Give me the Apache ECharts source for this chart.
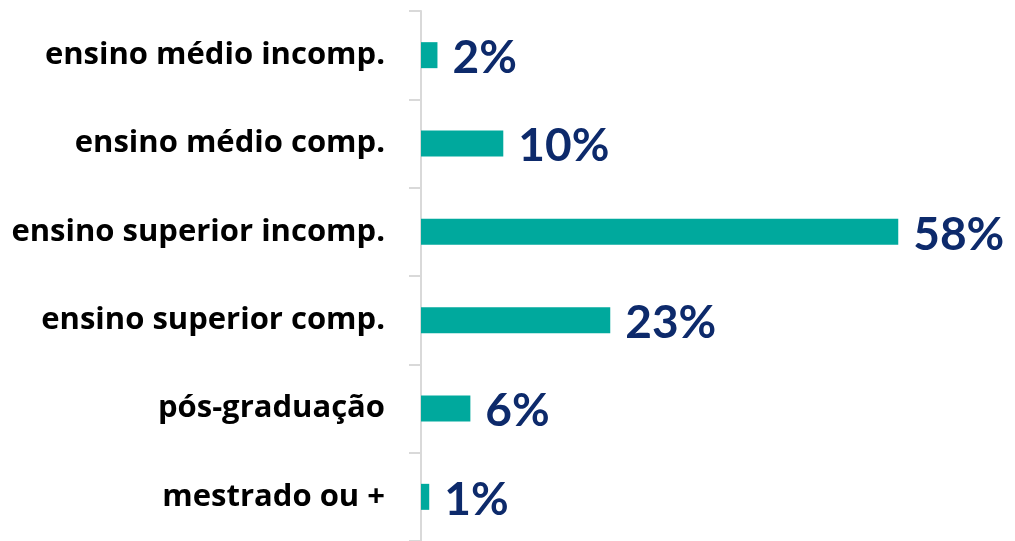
<!DOCTYPE html>
<html>
<head>
<meta charset="utf-8">
<script src="https://cdn.jsdelivr.net/npm/echarts@6/dist/echarts.min.js"></script>
<style>
  html, body { margin: 0; padding: 0; background: #fff; }
  #main { width: 1015px; height: 541px; }
</style>
</head>
<body>
<div id="main"></div>
<script>
const categories = [
  'ensino médio incomp.',
  'ensino médio comp.',
  'ensino superior incomp.',
  'ensino superior comp.',
  'pós-graduação',
  'mestrado ou +'
];
const percentages = [2, 10, 58, 23, 6, 1];

const myChart = echarts.init(document.getElementById('main'));

const option = {
  animation: false,
  grid: {
    left: 421,
    top: 11,
    width: 576,
    height: 532
  },
  xAxis: {
    type: 'value',
    min: 0,
    max: 70,
    show: false
  },
  yAxis: {
    type: 'category',
    inverse: true,
    data: categories,
    axisLine: { show: true, lineStyle: { color: '#d9d9d9', width: 2 } },
    axisTick: { show: true, length: 12, lineStyle: { color: '#d9d9d9', width: 2 } },
    axisLabel: {
      margin: 36,
      color: '#000',
      fontFamily: 'Open Sans',
      fontWeight: 'bold',
      fontSize: 31
    }
  },
  series: [
    {
      type: 'bar',
      data: percentages,
      barWidth: 26,
      itemStyle: { color: '#00a99d' },
      label: {
        show: true,
        position: 'right',
        distance: 15,
        offset: [0, 3],
        formatter: '{c}%',
        color: '#0d2a6b',
        fontFamily: 'Lato',
        fontWeight: 'bold',
        fontSize: 46
      }
    }
  ]
};

myChart.setOption(option);
</script>
</body>
</html>
